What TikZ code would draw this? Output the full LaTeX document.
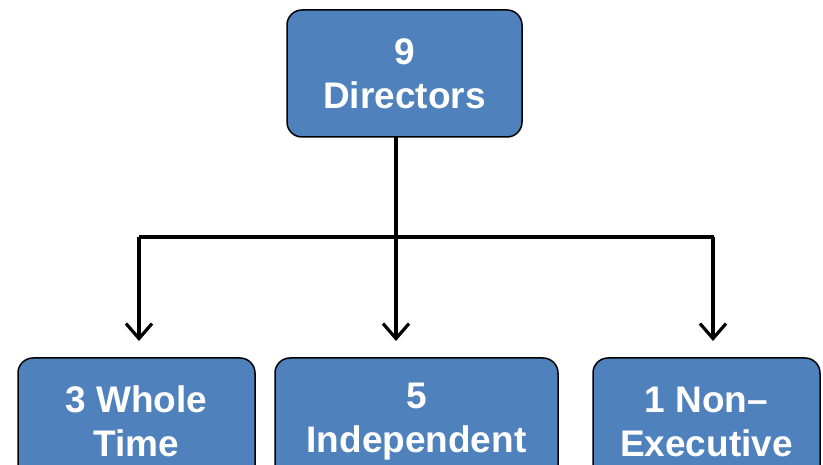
\documentclass[tikz,border=0pt]{standalone}
\usepackage{fontspec}
\setmainfont{Liberation Sans}
\usetikzlibrary{arrows.meta}
\definecolor{boxblue}{HTML}{4F81BD}
\tikzset{
  orgbox/.style={draw=black, line width=1.5pt, fill=boxblue, rounded corners=15pt,
    text=white, font=\fontsize{37}{44}\selectfont\bfseries, align=center,
    inner sep=0pt, outer sep=0pt},
  conn/.style={line width=3.2pt, draw=black},
  arr/.style={conn, -{Straight Barb[length=15pt, width=26pt, line width=3.2pt]}}
}
\begin{document}
\begin{tikzpicture}[x=1pt, y=-1pt]
\useasboundingbox (0,0) rectangle (823,465);
\clip (0,0) rectangle (823,465);
\node[orgbox, minimum width=235pt, minimum height=127pt] (top) at (404.5,73.5) {9\\Directors};
\node[orgbox, minimum width=237pt, minimum height=127pt] (b1) at (136.5,421.5) {3 Whole\\Time};
\node[orgbox, minimum width=283pt, minimum height=127pt] (b2) at (416.5,421.5) {5\\Independent};
\node[orgbox, minimum width=227pt, minimum height=127pt] (b3) at (706.5,421.5) {1 Non–\\Executive};
\coordinate (hl) at (139,237);
\coordinate (hr) at (714,237);
\coordinate (ts) at (396,137);
\coordinate (t1) at (139,341);
\coordinate (t2) at (396,341);
\coordinate (t3) at (713,341);
\draw[conn] (hl) -- (hr);
\draw[arr] (ts) -- (t2);
\draw[arr] (hl) -- (t1);
\draw[arr] (713,237) -- (t3);
\end{tikzpicture}
\end{document}
